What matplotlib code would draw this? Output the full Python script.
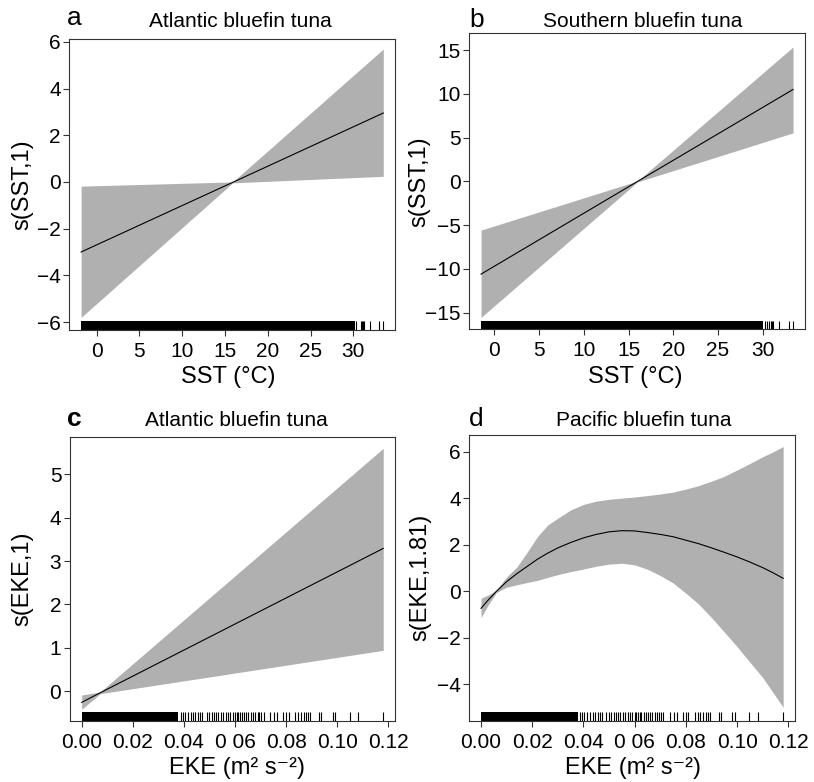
import matplotlib
matplotlib.use("Agg")
import matplotlib.pyplot as plt

plt.rcParams['font.family'] = ['Liberation Sans', 'DejaVu Sans']

# --- panel a: Atlantic bluefin tuna, SST
sst_a = [-1.8, 15.9, 33.5]
fit_a = [-3.0, -0.02, 2.95]
upr_a = [-0.18, 0.0, 5.69]
lwr_a = [-5.8, -0.04, 0.24]
rug_dense_a = (-1.8, 30.19)
rug_ticks_a = [30.3, 30.85, 31.0, 31.15, 31.3, 31.93, 33.03, 33.5]

# --- panel b: Southern bluefin tuna, SST
sst_b = [-1.5, 16.0, 33.4]
fit_b = [-10.59, 0.0, 10.51]
upr_b = [-5.56, 0.05, 15.37]
lwr_b = [-15.53, -0.05, 5.55]
rug_dense_b = (-1.5, 30.07)
rug_ticks_b = [30.26, 30.52, 30.7, 30.9, 31.04, 31.19, 31.86, 32.98, 33.4]

# --- panel c: Atlantic bluefin tuna, EKE
eke_c = [0.0, 0.0072, 0.118]
fit_c = [-0.26, -0.04, 3.29]
upr_c = [-0.09, -0.02, 5.6]
lwr_c = [-0.42, -0.06, 0.94]

# --- panel d: Pacific bluefin tuna, EKE
eke_d = [0.000, 0.003, 0.006, 0.010, 0.014, 0.018, 0.022, 0.026, 0.030, 0.035,
         0.040, 0.045, 0.050, 0.055, 0.060, 0.065, 0.070, 0.075, 0.080, 0.085,
         0.090, 0.095, 0.100, 0.105, 0.110, 0.114, 0.118]
fit_d = [-0.73, -0.35, 0.00, 0.42, 0.76, 1.07, 1.38, 1.64, 1.87, 2.10,
         2.30, 2.45, 2.56, 2.61, 2.60, 2.53, 2.45, 2.35, 2.20, 2.05,
         1.87, 1.68, 1.48, 1.26, 1.02, 0.80, 0.56]
upr_d = [-0.30, -0.15, 0.05, 0.62, 1.05, 1.68, 2.35, 2.85, 3.15, 3.50,
         3.74, 3.88, 3.96, 4.01, 4.06, 4.12, 4.19, 4.27, 4.40, 4.55,
         4.74, 4.95, 5.22, 5.50, 5.79, 6.00, 6.23]
lwr_d = [-1.13, -0.55, -0.05, 0.18, 0.28, 0.38, 0.47, 0.60, 0.72, 0.85,
         0.96, 1.08, 1.17, 1.21, 1.14, 0.95, 0.68, 0.36, -0.08, -0.55,
         -1.13, -1.75, -2.38, -3.05, -3.71, -4.35, -4.99]

# EKE rug (same observations in c and d)
rug_dense_eke = (0.0, 0.0378)
rug_ticks_eke = [0.0387, 0.0395, 0.0404, 0.0414, 0.0427, 0.0437, 0.0445, 0.0457,
                 0.0463, 0.0472, 0.0489, 0.0498, 0.0509, 0.0518, 0.0526, 0.0535,
                 0.0544, 0.0554, 0.0564, 0.0574, 0.0581, 0.0591, 0.0600, 0.0607,
                 0.0613, 0.0620, 0.0626, 0.0635, 0.0643, 0.0652, 0.0661, 0.0669,
                 0.0678, 0.0688, 0.0695, 0.0703, 0.0712, 0.0737, 0.0753, 0.0766,
                 0.0789, 0.0800, 0.0810, 0.0836, 0.0847, 0.0857, 0.0868, 0.0877,
                 0.0887, 0.0894, 0.0928, 0.0938, 0.0982, 0.0990, 0.1048, 0.1080,
                 0.1178]

eke_ticks = [0.0, 0.02, 0.04, 0.06, 0.08, 0.10, 0.12]
eke_ticklabels = ["0.00", "0.02", "0.04", "0 06", "0.08", "0.10", "0.12"]

W, H = 814, 782
fig = plt.figure(figsize=(W / 100, H / 100), dpi=100)

band_col = "#b0b0b0"
edge_col = "#333333"


def px_axes(left, top, right, bottom):
    return fig.add_axes([left / W, 1 - bottom / H, (right - left) / W, (bottom - top) / H])


def style(ax):
    for s in ax.spines.values():
        s.set_color(edge_col)
        s.set_linewidth(0.8)
    ax.tick_params(direction="out", length=4.5, width=0.8, color=edge_col,
                   labelsize=15)
    ax.tick_params(axis="y", pad=1.5)
    ax.tick_params(axis="x", pad=4)


def labels(ax, xl, yl, xlx, xly, ylx):
    ax.set_xlabel(xl, fontsize=17)
    ax.set_ylabel(yl, fontsize=17)
    ax.xaxis.set_label_coords(xlx, xly)
    ax.xaxis.label.set_va("baseline")
    ax.yaxis.set_label_coords(ylx, 0.5)


def draw(ax, x, fit, upr, lwr, dense, ticks):
    ax.fill_between(x, lwr, upr, color=band_col, lw=0)
    ax.plot(x, fit, color="black", lw=0.8)
    tr = ax.get_xaxis_transform()
    ax.axvspan(dense[0], dense[1], ymin=0, ymax=0.03, color="black", lw=0)
    ax.vlines(ticks, 0, 0.03, transform=tr, color="black", lw=0.8)


def head(letter, title, lx, ly, tx, ty, bold=False):
    fig.text(lx / W, 1 - ly / H, letter, fontsize=19,
             fontweight="bold" if bold else "normal", va="baseline", ha="left")
    fig.text(tx / W, 1 - ty / H, title, fontsize=15, va="baseline", ha="center")


# a
ax = px_axes(69.3, 39, 395, 330)
draw(ax, sst_a, fit_a, upr_a, lwr_a, rug_dense_a, rug_ticks_a)
ax.set_xlim(-3.18, 34.87)
ax.set_ylim(-6.34, 6.12)
ax.set_xticks([0, 5, 10, 15, 20, 25, 30])
ax.set_yticks([-6, -4, -2, 0, 2, 4, 6])
style(ax)
labels(ax, "SST (°C)", "s(SST,1)", 0.487, -0.183, -0.111)
head("a", "Atlantic bluefin tuna", 67, 25, 240.5, 26.7)

# b
ax = px_axes(469, 33.3, 805.3, 329.5)
draw(ax, sst_b, fit_b, upr_b, lwr_b, rug_dense_b, rug_ticks_b)
ax.set_xlim(-2.85, 34.77)
ax.set_ylim(-16.92, 16.93)
ax.set_xticks([0, 5, 10, 15, 20, 25, 30])
ax.set_yticks([-15, -10, -5, 0, 5, 10, 15])
style(ax)
labels(ax, "SST (°C)", "s(SST,1)", 0.495, -0.18, -0.116)
head("b", "Southern bluefin tuna", 469, 26.7, 642.5, 26.7)

# c
ax = px_axes(69.7, 437, 395, 721)
draw(ax, eke_c, fit_c, upr_c, lwr_c, rug_dense_eke, rug_ticks_eke)
ax.set_xlim(-0.0047, 0.1226)
ax.set_ylim(-0.69, 5.86)
ax.set_xticks(eke_ticks)
ax.set_xticklabels(eke_ticklabels)
ax.set_yticks([0, 1, 2, 3, 4, 5])
style(ax)
labels(ax, "EKE (m² s⁻²)", "s(EKE,1)", 0.513, -0.188, -0.113)
head("c", "Atlantic bluefin tuna", 67, 426, 236.3, 426, bold=True)

# d
ax = px_axes(469, 434.7, 794.7, 721)
draw(ax, eke_d, fit_d, upr_d, lwr_d, rug_dense_eke, rug_ticks_eke)
ax.set_xlim(-0.0047, 0.1225)
ax.set_ylim(-5.58, 6.74)
ax.set_xticks(eke_ticks)
ax.set_xticklabels(eke_ticklabels)
ax.set_yticks([-4, -2, 0, 2, 4, 6])
style(ax)
labels(ax, "EKE (m² s⁻²)", "s(EKE,1.81)", 0.503, -0.184, -0.114)
head("d", "Pacific bluefin tuna", 469, 426, 644, 426)

fig.savefig("out.png", dpi=100)
